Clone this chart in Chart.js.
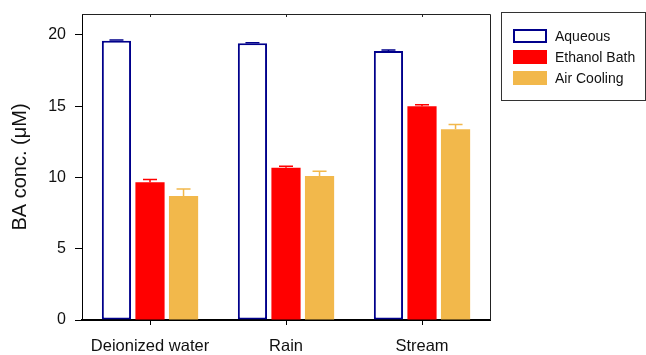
<!DOCTYPE html>
<html>
<head>
<meta charset="utf-8">
<script src="https://cdn.jsdelivr.net/npm/chart.js@4/dist/chart.umd.min.js"></script>
<style>
  html, body { margin: 0; padding: 0; background: #fff; }
  #wrap { width: 646px; height: 355px; position: relative; }
</style>
</head>
<body>
<div id="wrap"><canvas id="c" width="646" height="355"></canvas></div>
<script>
// Sample matrices and BA concentrations (µM) for each processing method
const categories = ['Deionized water', 'Rain', 'Stream'];
const seriesNames = ['Aqueous', 'Ethanol Bath', 'Air Cooling'];
const aqueous = [19.6, 19.42, 18.88];
const ethanolBath = [9.66, 10.69, 15.0];
const airCooling = [8.7, 10.1, 13.38];
// Upper error (standard deviation) for each bar
const aqueousErr = [0.05, 0.04, 0.07];
const ethanolErr = [0.2, 0.1, 0.11];
const airErr = [0.5, 0.33, 0.33];
const yTicks = [0, 5, 10, 15, 20];

const FONT = "Arial, 'Liberation Sans', sans-serif";
const NAVY = '#00008B';
const RED = '#FF0000';
const GOLD = '#F2B84B';

// Draws upward error bars with caps for each bar
const errorBars = {
  id: 'errorBars',
  afterDatasetsDraw(chart) {
    const ctx = chart.ctx;
    const y = chart.scales.y;
    chart.data.datasets.forEach((ds, i) => {
      const meta = chart.getDatasetMeta(i);
      meta.data.forEach((bar, j) => {
        const v = ds.data[j];
        const e = ds.errors[j];
        const top = y.getPixelForValue(v + e);
        const base = y.getPixelForValue(v);
        ctx.save();
        ctx.strokeStyle = ds.errorColor;
        ctx.lineWidth = 1.5;
        ctx.beginPath();
        ctx.moveTo(bar.x, base);
        ctx.lineTo(bar.x, top);
        ctx.moveTo(bar.x - 7, top);
        ctx.lineTo(bar.x + 7, top);
        ctx.stroke();
        ctx.restore();
      });
    });
  }
};

// Frame around the plotting area (top and right edges) plus top ticks
const frame = {
  id: 'frame',
  afterDraw(chart) {
    const { ctx, chartArea: a } = chart;
    const x = chart.scales.x;
    ctx.save();
    ctx.strokeStyle = '#222';
    ctx.lineWidth = 1;
    ctx.beginPath();
    ctx.moveTo(a.left, a.top + 0.5);
    ctx.lineTo(a.right + 0.5, a.top + 0.5);
    ctx.lineTo(a.right + 0.5, a.bottom);
    ctx.stroke();
    ctx.beginPath();
    categories.forEach((c, i) => {
      const px = Math.round(x.getPixelForValue(i)) + 0.5;
      ctx.moveTo(px, a.top);
      ctx.lineTo(px, a.top + 3);
    });
    ctx.stroke();
    ctx.restore();
  }
};

// Boxed legend to the right of the plot
const boxLegend = {
  id: 'boxLegend',
  afterDraw(chart) {
    const ctx = chart.ctx;
    const bx = 501.5, by = 12.5, bw = 144, bh = 88;
    ctx.save();
    ctx.strokeStyle = '#333';
    ctx.lineWidth = 1;
    ctx.strokeRect(bx, by, bw, bh);
    ctx.font = '14px ' + FONT;
    ctx.textBaseline = 'middle';
    ctx.fillStyle = '#111';
    const rows = [36, 57, 78];
    chart.data.datasets.forEach((ds, i) => {
      const cy = rows[i];
      if (ds.backgroundColor === '#FFFFFF') {
        ctx.fillStyle = '#fff';
        ctx.fillRect(513, cy - 7, 34, 14);
        ctx.strokeStyle = ds.borderColor;
        ctx.lineWidth = 2;
        ctx.strokeRect(514, cy - 6, 32, 12);
      } else {
        ctx.fillStyle = ds.backgroundColor;
        ctx.fillRect(513, cy - 7, 34, 14);
      }
      ctx.fillStyle = '#111';
      ctx.fillText(ds.label, 555, cy + 1);
    });
    ctx.restore();
  }
};

new Chart(document.getElementById('c'), {
  type: 'bar',
  data: {
    labels: categories,
    datasets: [
      { label: seriesNames[0], data: aqueous, errors: aqueousErr, backgroundColor: '#FFFFFF',
        borderColor: NAVY, borderWidth: 2, errorColor: NAVY, borderSkipped: false },
      { label: seriesNames[1], data: ethanolBath, errors: ethanolErr, backgroundColor: RED,
        borderWidth: 0, errorColor: RED },
      { label: seriesNames[2], data: airCooling, errors: airErr, backgroundColor: GOLD,
        borderWidth: 0, errorColor: GOLD }
    ]
  },
  options: {
    responsive: false,
    animation: false,
    devicePixelRatio: 1,
    categoryPercentage: 0.74,
    barPercentage: 0.87,
    layout: { padding: { left: 0, right: 156, top: 14, bottom: 0 } },
    plugins: { legend: { display: false }, tooltip: { enabled: false } },
    scales: {
      x: {
        afterFit(s) { s.height = 35; s.paddingLeft = 0; s.paddingRight = 0; },
        grid: { display: true, drawOnChartArea: false, offset: false, tickLength: 5, color: '#000', tickWidth: 1 },
        border: { display: true, color: '#000', width: 2 },
        ticks: { color: '#111', font: { family: FONT, size: 16.5 }, padding: 12 }
      },
      y: {
        min: 0,
        max: 21.47,
        afterFit(s) { s.width = 82; s.paddingTop = 0; s.paddingBottom = 0; },
        afterBuildTicks(s) { s.ticks = yTicks.map(v => ({ value: v })); },
        grid: { display: true, drawOnChartArea: false, tickLength: 7, color: '#000' },
        border: { display: true, color: '#000', width: 1 },
        ticks: { color: '#111', font: { family: FONT, size: 16 }, padding: 9 },
        title: { display: true, text: 'BA conc. (\u03bcM)', color: '#111', font: { family: FONT, size: 20 }, padding: { top: 8, bottom: 0 } }
      }
    }
  },
  plugins: [errorBars, frame, boxLegend]
});
</script>
</body>
</html>
